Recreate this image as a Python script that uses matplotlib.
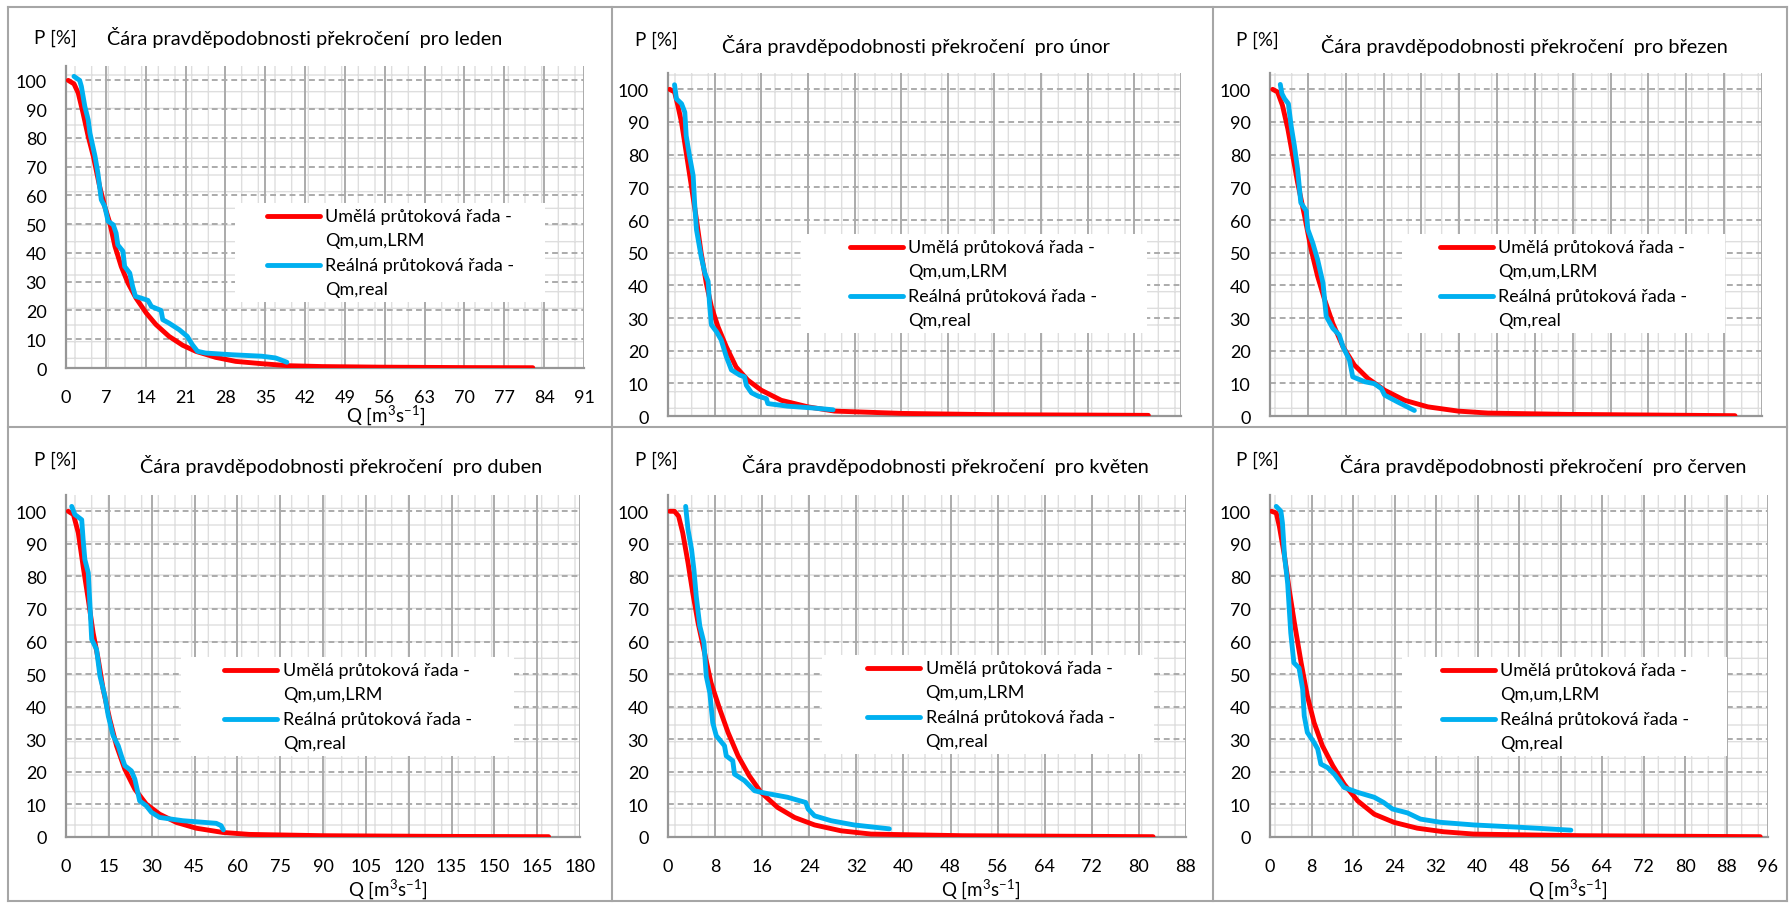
import numpy as np
import matplotlib
matplotlib.use('Agg')
import matplotlib.pyplot as plt
from matplotlib.lines import Line2D
from matplotlib.patches import Rectangle
from matplotlib.legend_handler import HandlerBase

plt.rcParams['font.family'] = ['Lato', 'DejaVu Sans']
plt.rcParams['mathtext.fontset'] = 'custom'
plt.rcParams['mathtext.rm'] = 'Lato'
plt.rcParams['mathtext.it'] = 'Lato:italic'
plt.rcParams['mathtext.default'] = 'regular'
plt.rcParams['hatch.linewidth'] = 1.0

months = ['leden', 'únor', 'březen', 'duben', 'květen', 'červen']
lbl_um = 'Umělá průtoková řada -\nQm,um,LRM'
lbl_real = 'Reálná průtoková řada -\nQm,real'

# leden
jan_um_q = [0.4, 1.4, 2.15, 3.0, 3.9, 4.8, 5.9, 6.8, 7.7, 8.6, 9.7, 10.9, 12.3, 14.1, 15.8, 18.1,
            20.5, 22.8, 26.3, 29.8, 34.4, 39.1, 45, 55, 70, 82]
jan_um_p = [100, 98.8, 95.6, 88.6, 80.5, 73.6, 63.2, 56.2, 50.4, 42.3, 35.3, 29.5, 24.3, 19.1, 15.1, 11.0,
            7.9, 5.8, 3.7, 2.3, 1.5, 0.8, 0.5, 0.3, 0.15, 0.1]
jan_real_q = [1.4, 2.4, 2.7, 3.3, 3.9, 4.2, 5.1, 5.6, 6.2, 6.8, 7.4, 8.3, 8.8, 9.1, 10.0, 10.3, 11.2, 11.7,
              12.2, 13.2, 14.4, 15.0, 16.7, 17.0, 18.1, 19.9, 21.3, 22.2, 23.1, 24.5, 29.2, 34.4, 36.8, 37.9, 38.8]
jan_real_p = [101.4, 100, 97.9, 91, 86.3, 81.7, 73.6, 67.8, 58.5, 56.2, 51.0, 49.8, 46.9, 42.8, 40.6, 35.3, 33.0, 28.4,
              24.9, 24.3, 23.5, 21.4, 20.0, 16.8, 15.6, 13.3, 11.0, 8.1, 5.8, 5.2, 4.6, 4.1, 3.5, 2.7, 2.0]

# unor
feb_um_q = [0.36, 1.4, 2.1, 2.9, 3.9, 5.0, 6.1, 7.1, 8.2, 9.3, 10.7, 12.5, 14.6, 17.1, 20.0, 24.3, 30.0, 35.7, 50, 70, 103]
feb_um_p = [100, 99.2, 95.1, 89.9, 80.7, 70.5, 60.2, 50.0, 40.7, 33.5, 27.4, 21.2, 15.0, 11.0, 7.9, 4.8, 2.8, 1.5, 0.8, 0.4, 0.2]
feb_real_q = [1.4, 1.8, 2.9, 3.6, 3.9, 4.6, 5.4, 5.7, 6.1, 7.1, 7.9, 8.6, 8.9, 9.3, 10.4, 11.4, 12.5, 13.6, 15.4, 16.4,
              16.8, 17.9, 19.3, 21.1, 21.4, 25.7, 30.7, 35.4]
feb_real_p = [101.4, 97.1, 95.6, 93, 85.8, 79.7, 73.5, 65.3, 57.1, 48.9, 43.8, 41.2, 34.5, 27.9, 25.8, 23.3, 18.2, 14.1, 12.5, 12.0,
              9.4, 7.1, 6.1, 5.3, 3.8, 3.0, 2.5, 1.9]

# brezen
mar_um_q = [0.5, 1.4, 2.3, 3.3, 4.2, 5.1, 6.4, 7.6, 8.8, 10.1, 11.6, 13.5, 15.6, 18.1, 21.2, 24.9, 29.2, 34.8, 40.3, 55, 86]
mar_um_p = [100, 99.2, 95.1, 87.9, 79.7, 71.5, 61.2, 51.0, 42.8, 35.6, 28.4, 21.2, 15.6, 11.5, 7.9, 4.8, 2.8, 1.5, 0.9, 0.5, 0.1]
mar_real_q = [1.9, 2.2, 2.7, 3.4, 3.9, 4.5, 5.1, 5.7, 6.7, 7.0, 7.9, 8.8, 9.8, 10.4, 11.6, 12.8, 13.5, 14.7, 15.3, 17.5,
              19.3, 20.6, 21.2, 23.6, 26.7]
mar_real_p = [101.5, 98.7, 97.1, 95.6, 88.9, 82.8, 75.6, 65.3, 62.8, 57.1, 53.0, 47.9, 40.7, 30.5, 26.9, 24.8, 21.2, 17.1, 12.0, 10.5,
              9.9, 8.4, 6.4, 4.3, 1.7]

# duben
apr_um_q = [0.8, 2.6, 4.3, 6.0, 7.8, 9.5, 11.3, 13.0, 15.3, 17.7, 20.6, 24.1, 28.1, 32.8, 38.6, 45.6, 54.9, 64.2, 90, 130, 169]
apr_um_p = [100, 99, 93.4, 83.1, 72.9, 62.7, 54.5, 45.4, 36.2, 28, 20.8, 14.7, 10.1, 7.0, 4.5, 2.7, 1.4, 0.8, 0.4, 0.2, 0.1]
apr_real_q = [2.0, 3.1, 5.5, 6.0, 6.6, 7.8, 8.4, 9.0, 10.7, 11.9, 13.6, 14.8, 16.5, 18.3, 19.4, 20.6, 22.9, 24.1, 25.8, 28.1,
              29.9, 32.8, 40.9, 52.6, 54.3, 55.1]
apr_real_p = [101.5, 99, 97.4, 91.3, 85.2, 81.1, 70.9, 60.7, 57.6, 49.4, 43.3, 37.2, 31.1, 28, 24.9, 21.9, 20.3, 17.8, 11.1, 9.6,
              7.6, 6.0, 5.0, 4.2, 3.5, 2.2]

# kveten
may_um_q = [0.3, 1.1, 1.8, 2.5, 3.4, 4.2, 5.1, 6.2, 7.3, 8.8, 10.2, 11.9, 13.8, 15.8, 18.6, 21.5, 24.9, 29.4, 34.5, 50, 82.4]
may_um_p = [100, 100, 98.5, 93.4, 84.2, 75, 65.8, 56.6, 47.4, 39.2, 32.1, 24.9, 18.8, 13.7, 9.1, 6.0, 3.7, 1.9, 0.9, 0.4, 0.1]
may_real_q = [3.0, 3.4, 4.0, 4.4, 4.8, 5.4, 6.1, 6.5, 7.1, 7.6, 8.2, 9.6, 9.9, 11.0, 11.3, 13.0, 14.7, 16.4, 20.3, 23.4,
              23.8, 24.9, 27.7, 31.6, 37.6]
may_real_p = [101.5, 94.4, 88.3, 82.1, 73.9, 64.8, 59.7, 49.4, 44.3, 35.1, 31.1, 28, 24.9, 23.4, 19.3, 17.3, 14.2, 13.5, 12.2, 10.6,
              8.6, 6.5, 5.0, 3.7, 2.5]

# cerven
jun_um_q = [0.3, 1.2, 1.8, 2.8, 3.7, 4.7, 6.0, 7.2, 8.5, 10.1, 12.1, 14.3, 16.9, 20.1, 23.9, 28.4, 33.5, 39.3, 60, 94.5]
jun_um_p = [100, 99.5, 95.4, 86.2, 76, 65.8, 53.5, 43.3, 35.1, 28, 21.9, 16.2, 11.1, 7.0, 4.5, 2.7, 1.6, 0.9, 0.4, 0.1]
jun_real_q = [1.2, 2.1, 2.4, 2.8, 3.4, 4.0, 4.6, 5.6, 6.3, 6.6, 7.2, 8.5, 9.2, 9.8, 11.1, 12.4, 14.3, 16.9, 20.1, 21.9,
              23.6, 26.5, 29.0, 32.9, 39.3, 48, 58]
jun_real_p = [101.5, 100, 96.4, 86.2, 78, 62.7, 53.5, 51.9, 45.4, 37.2, 32.1, 29, 27, 22.4, 21.3, 19.3, 15.2, 13.7, 12.2, 10.6,
              8.6, 7.4, 5.5, 4.5, 3.7, 3.0, 2.1]

x_max = [91, 110, 91, 180, 88, 96]
x_step = [7, 10, 7, 15, 8, 8]

series = [(jan_um_q, jan_um_p, jan_real_q, jan_real_p),
          (feb_um_q, feb_um_p, feb_real_q, feb_real_p),
          (mar_um_q, mar_um_p, mar_real_q, mar_real_p),
          (apr_um_q, apr_um_p, apr_real_q, apr_real_p),
          (may_um_q, may_um_p, may_real_q, may_real_p),
          (jun_um_q, jun_um_p, jun_real_q, jun_real_p)]

W, H = 1791, 904
RED = '#ff0000'
BLUE = '#00b0f0'
GRID = '#ababab'

# layout in pixels: axes box, "P [%]" pos, title pos, xlabel pos, legend box (left, right, top), handle gap
axes_px = [(66, 67, 584, 369), (668, 74, 1181, 417), (1270, 74, 1762, 417),
           (66, 496, 580, 838), (668, 496, 1186, 838), (1270, 496, 1768, 838)]
p_px = [(34, 38), (635, 40), (1236, 40), (34, 460), (635, 460), (1236, 460)]
title_px = [(107, 38), (722, 45), (1321, 45), (140, 465), (742, 465), (1340, 465)]
xlab_px = [(386, 415), None, None, (388, 889), (981, 889), (1568, 889)]
leg_px = [(235, 545, 204, 1.45), (801, 1147, 235, 2.4), (1402, 1725, 235, 1.8),
          (181, 514, 658, 2.1), (822, 1154, 656, 2.2), (1402, 1727, 658, 1.9)]


class FirstLineHandler(HandlerBase):
    # legend line sits next to the first line of the two-line label
    def __init__(self, gap):
        super().__init__()
        self.gap = gap

    def create_artists(self, legend, orig_handle, xdescent, ydescent, width, height, fontsize, trans):
        y = height / 2 - ydescent + 0.7 * fontsize
        x0 = -xdescent + self.gap * fontsize
        ln = Line2D([x0, width - xdescent], [y, y], color=orig_handle.get_color(),
                    lw=orig_handle.get_linewidth(), solid_capstyle='round')
        ln.set_transform(trans)
        return [ln]


fig = plt.figure(figsize=(W / 100, H / 100), dpi=100)

for i, (uq, up, rq, rp) in enumerate(series):
    x0, y0, x1, y1 = axes_px[i]
    ax = fig.add_axes([x0 / W, 1 - y1 / H, (x1 - x0) / W, (y1 - y0) / H])
    ax.add_patch(Rectangle((0, 0), 1, 1, transform=ax.transAxes, facecolor='white',
                           edgecolor='#dedede', hatch='+', lw=0, zorder=0.2))
    l1, = ax.plot(uq, up, color=RED, lw=3.5, solid_joinstyle='round', solid_capstyle='round', zorder=3)
    l2, = ax.plot(rq, rp, color=BLUE, lw=3.5, solid_joinstyle='round', solid_capstyle='round', zorder=4)
    ax.set_xlim(0, x_max[i])
    ax.set_ylim(0, 105)
    ax.set_xticks(np.arange(0, x_max[i] + 1, x_step[i]))
    ax.set_yticks(np.arange(0, 101, 10))
    ax.set_axisbelow(True)
    ax.grid(axis='x', color=GRID, lw=1.4, ls='-')
    ax.grid(axis='y', color=GRID, lw=1.4, ls=(0, (3, 2)))
    for s in ['top', 'right']:
        ax.spines[s].set_visible(False)
    for s in ['left', 'bottom']:
        ax.spines[s].set_color('#969696')
        ax.spines[s].set_linewidth(1.6)
    ax.tick_params(length=0, labelsize=13, colors='black')
    ax.tick_params(axis='x', pad=15)
    ax.tick_params(axis='y', pad=14)
    if i in (1, 2):
        ax.tick_params(axis='x', labelbottom=False)

    lx0, lx1, ly, gap = leg_px[i]
    fs = 13 * 100 / 72
    leg = ax.legend([l1, l2], [lbl_um, lbl_real], loc='upper left',
                    bbox_to_anchor=((lx0 - x0) / (x1 - x0), 0, (lx1 - lx0) / (x1 - x0), (y1 - ly) / (y1 - y0)),
                    mode='expand', borderaxespad=0, frameon=True, fancybox=False,
                    edgecolor='none', facecolor='white', framealpha=1, fontsize=13,
                    handlelength=gap + 53 / fs, handletextpad=0.3, labelspacing=0.5, borderpad=0.3,
                    handler_map={Line2D: FirstLineHandler(gap)})
    for t in leg.get_texts():
        t.set_linespacing(1.6)
    leg.set_zorder(5)

    fig.text(p_px[i][0] / W, 1 - p_px[i][1] / H, 'P [%]', fontsize=13.5, ha='left', va='center')
    fig.text(title_px[i][0] / W, 1 - title_px[i][1] / H,
             'Čára pravděpodobnosti překročení  pro ' + months[i], fontsize=14.3, ha='left', va='center')
    if xlab_px[i] is not None:
        fig.text(xlab_px[i][0] / W, 1 - xlab_px[i][1] / H, 'Q [m$^{3}$s$^{-1}$]',
                 fontsize=13.5, ha='center', va='center')

# panel frames
for x in [8, 612, 1213, 1787]:
    fig.add_artist(Line2D([x / W, x / W], [1 - 8 / H, 1 - 902 / H], color='#a6a6a6', lw=1.5))
for y in [8, 428, 902]:
    fig.add_artist(Line2D([8 / W, 1787 / W], [1 - y / H, 1 - y / H], color='#a6a6a6', lw=1.5))

fig.savefig('out.png', dpi=100, facecolor='white')
